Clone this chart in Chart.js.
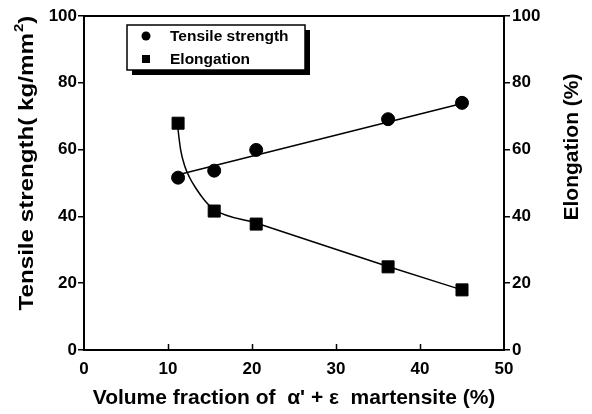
<!DOCTYPE html>
<html>
<head>
<meta charset="utf-8">
<script src="https://cdn.jsdelivr.net/npm/chart.js@4/dist/chart.umd.min.js"></script>
<style>
  html, body { margin: 0; padding: 0; background: #fff; }
  #wrap { width: 592px; height: 414px; }
</style>
</head>
<body>
<div id="wrap"><canvas id="chart" width="592" height="414"></canvas></div>
<script>
// values
const volumeFraction = [11.2, 15.5, 20.5, 36.2, 45.0];
const tensileStrength = [51.6, 53.7, 59.9, 69.1, 74.0];
const elongation = [67.9, 41.6, 37.7, 24.9, 18.0];

// fitted lines as drawn in the figure
const tensileFitX = [11.2, 45.0];
const tensileFitY = [52.5, 73.8];
const elongFitX = [11.1, 11.5, 12.0, 12.6, 13.3, 14.3, 15.5, 20.5, 36.2, 45.0];
const elongFitY = [68, 60, 55, 51.5, 48.5, 45, 42, 38, 25, 18];

const xTicks = [0, 10, 20, 30, 40, 50];

const leftTitle = ['Tensile strength( kg/mm', '2', ')'];
const rightTitle = 'Elongation (%)';

const pts = (xs, ys) => xs.map((x, i) => ({ x: x, y: ys[i] }));

const FONT = 'Liberation Sans, Arial, Helvetica, sans-serif';

// frame top line, inward x ticks, and both y titles (both read bottom-up)
const framePlugin = {
  id: 'frame',
  afterDraw(chart) {
    const { ctx, chartArea } = chart;
    const xs = chart.scales.x;
    ctx.save();
    ctx.strokeStyle = '#000';
    ctx.lineWidth = 2;
    ctx.beginPath();
    ctx.moveTo(chartArea.left, chartArea.top);
    ctx.lineTo(chartArea.right, chartArea.top);
    ctx.stroke();
    ctx.lineWidth = 1.5;
    xTicks.slice(1, -1).forEach(v => {
      const px = Math.round(xs.getPixelForValue(v)) + 0.5;
      ctx.beginPath();
      ctx.moveTo(px, chartArea.bottom);
      ctx.lineTo(px, chartArea.bottom - 6);
      ctx.stroke();
    });
    ctx.restore();

    // right title
    ctx.save();
    ctx.translate(572, 147);
    ctx.rotate(-Math.PI / 2);
    ctx.fillStyle = '#000';
    ctx.font = 'bold 21px ' + FONT;
    ctx.textAlign = 'center';
    ctx.textBaseline = 'middle';
    ctx.fillText(rightTitle, 0, 0);
    ctx.restore();

    // left title with a raised "2"
    ctx.save();
    ctx.translate(26, 163);
    ctx.rotate(-Math.PI / 2);
    ctx.scale(1.15, 1);
    ctx.fillStyle = '#000';
    const big = 'bold 21px ' + FONT, small = 'bold 13px ' + FONT;
    ctx.font = big;
    const w0 = ctx.measureText(leftTitle[0]).width;
    const w2 = ctx.measureText(leftTitle[2]).width;
    ctx.font = small;
    const w1 = ctx.measureText(leftTitle[1]).width + 1;
    let x = -(w0 + w1 + w2) / 2;
    ctx.textBaseline = 'alphabetic';
    ctx.font = big;
    ctx.fillText(leftTitle[0], x, 7);
    x += w0;
    ctx.font = small;
    ctx.fillText(leftTitle[1], x + 1, -3);
    x += w1;
    ctx.font = big;
    ctx.fillText(leftTitle[2], x, 7);
    ctx.restore();
  }
};

// boxed legend with drop shadow, like the original
const legendBoxPlugin = {
  id: 'legendBox',
  afterDraw(chart) {
    const { ctx } = chart;
    const items = chart.data.datasets.filter(d => d.label);
    const x0 = 127, y0 = 25, w = 178, h = 45;
    ctx.save();
    ctx.fillStyle = '#000';
    ctx.fillRect(x0 + 5, y0 + 5, w, h);
    ctx.fillStyle = '#fff';
    ctx.fillRect(x0, y0, w, h);
    ctx.strokeStyle = '#000';
    ctx.lineWidth = 1.5;
    ctx.strokeRect(x0, y0, w, h);
    ctx.font = 'bold 15.5px ' + FONT;
    ctx.textBaseline = 'middle';
    items.forEach((d, i) => {
      const cy = y0 + 11 + i * 23;
      ctx.fillStyle = '#000';
      if (d.pointStyle === 'rect') {
        ctx.fillRect(142, cy - 4, 8, 8);
      } else {
        ctx.beginPath();
        ctx.arc(146, cy, 4.5, 0, Math.PI * 2);
        ctx.fill();
      }
      ctx.fillText(d.label, 170, cy + 1);
    });
    ctx.restore();
  }
};

new Chart(document.getElementById('chart'), {
  type: 'scatter',
  data: {
    datasets: [
      {
        data: pts(tensileFitX, tensileFitY),
        showLine: true, borderColor: '#000', borderWidth: 1.5,
        pointRadius: 0, yAxisID: 'y'
      },
      {
        data: pts(elongFitX, elongFitY),
        showLine: true, borderColor: '#000', borderWidth: 1.5,
        cubicInterpolationMode: 'monotone',
        pointRadius: 0, yAxisID: 'y2'
      },
      {
        label: 'Tensile strength',
        data: pts(volumeFraction, tensileStrength),
        pointStyle: 'circle', pointRadius: 6.5,
        backgroundColor: '#000', borderColor: '#000', yAxisID: 'y'
      },
      {
        label: 'Elongation',
        data: pts(volumeFraction, elongation),
        pointStyle: 'rect', pointRadius: 8.5,
        backgroundColor: '#000', borderColor: '#000', yAxisID: 'y2'
      }
    ]
  },
  options: {
    responsive: false,
    animation: false,
    layout: { padding: { top: 16, left: 0, right: 0, bottom: 0 } },
    plugins: { legend: { display: false }, tooltip: { enabled: false } },
    scales: {
      x: {
        type: 'linear', min: 0, max: 50,
        afterBuildTicks: s => { s.ticks = xTicks.map(v => ({ value: v })); },
        afterFit: s => { s.height = 64; },
        grid: { display: true, drawOnChartArea: false, drawTicks: false },
        border: { color: '#000', width: 2 },
        ticks: { color: '#000', padding: 9, font: { family: FONT, size: 17, weight: 'bold' } },
        title: {
          display: true,
          text: "Volume fraction of  \u03b1' + \u03b5  martensite (%)",
          color: '#000',
          padding: { bottom: 3 },
          font: { family: FONT, size: 21, weight: 'bold' }
        }
      },
      y: {
        position: 'left', min: 0, max: 100,
        afterFit: s => { s.width = 84; },
        grid: { drawOnChartArea: false, tickLength: 6, color: '#000', lineWidth: 1.5 },
        border: { color: '#000', width: 2 },
        ticks: { stepSize: 20, color: '#000', padding: 1, font: { family: FONT, size: 17, weight: 'bold' } },
        title: { display: false }
      },
      y2: {
        position: 'right', min: 0, max: 100,
        afterFit: s => { s.width = 88; },
        grid: { drawOnChartArea: false, tickLength: 6, color: '#000', lineWidth: 1.5 },
        border: { color: '#000', width: 2 },
        ticks: { stepSize: 20, color: '#000', padding: 2, font: { family: FONT, size: 17, weight: 'bold' } },
        title: { display: false }
      }
    }
  },
  plugins: [framePlugin, legendBoxPlugin]
});
</script>
</body>
</html>
